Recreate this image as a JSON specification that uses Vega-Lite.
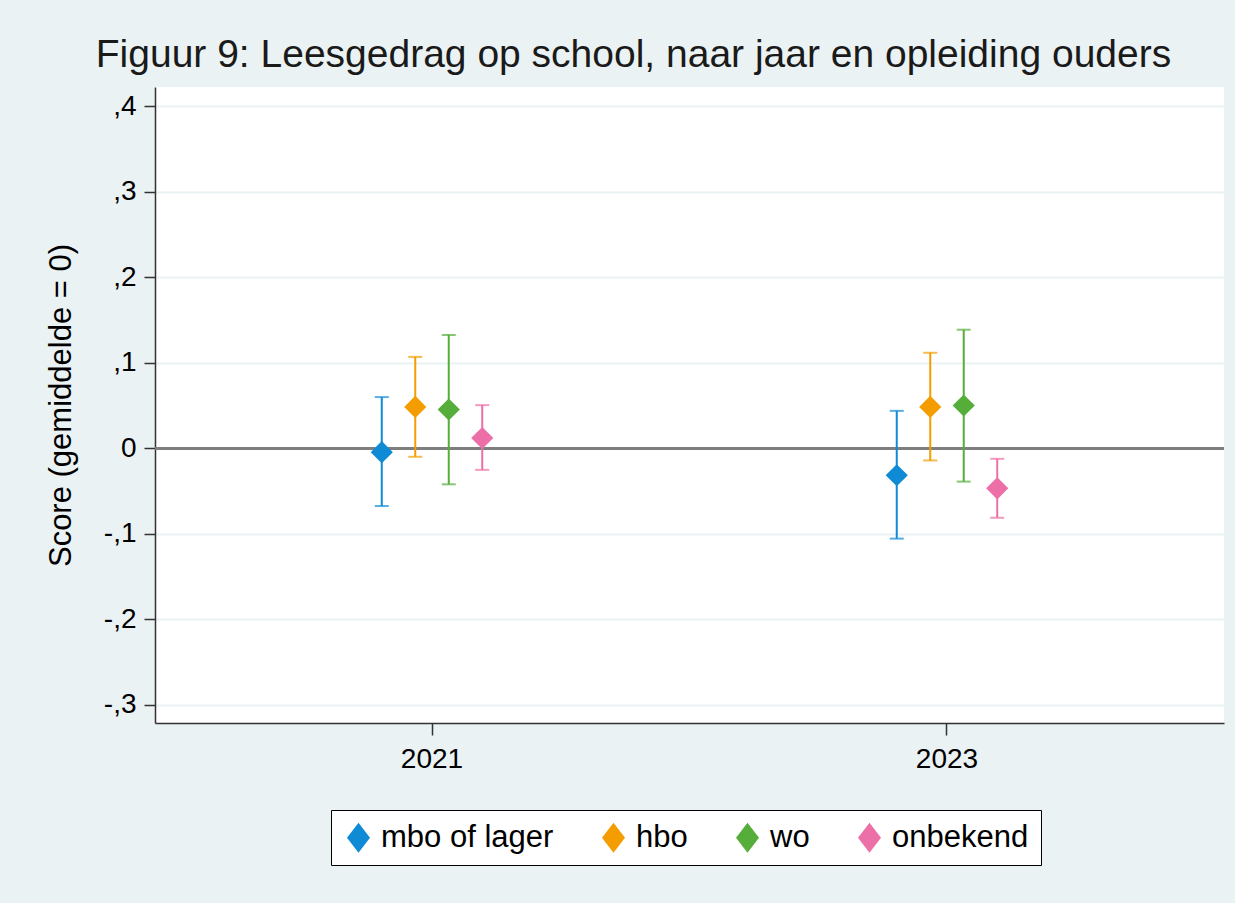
{
  "$schema": "https://vega.github.io/schema/vega-lite/v6.json",
  "width": 1069,
  "height": 636,
  "autosize": {"type": "none"},
  "padding": {"left": 155, "top": 87, "right": 11, "bottom": 180},
  "background": "#EAF2F3",
  "config": {
    "font": "Liberation Sans",
    "view": {"fill": "white", "stroke": null}
  },
  "title": {
    "text": "Figuur 9: Leesgedrag op school, naar jaar en opleiding ouders",
    "fontSize": 39,
    "fontWeight": "normal",
    "color": "#1a1a1a",
    "anchor": "middle",
    "frame": "group",
    "dx": -56,
    "offset": 12
  },
  "data": {
    "values": [
      {"jaar": "2021", "opleiding": "mbo of lager", "score": -0.0044, "lo": -0.0674, "hi": 0.0600},
      {"jaar": "2021", "opleiding": "hbo", "score": 0.0485, "lo": -0.0098, "hi": 0.1070},
      {"jaar": "2021", "opleiding": "wo", "score": 0.0455, "lo": -0.0420, "hi": 0.1326},
      {"jaar": "2021", "opleiding": "onbekend", "score": 0.0121, "lo": -0.0251, "hi": 0.0506},
      {"jaar": "2023", "opleiding": "mbo of lager", "score": -0.0314, "lo": -0.1055, "hi": 0.0439},
      {"jaar": "2023", "opleiding": "hbo", "score": 0.0485, "lo": -0.0141, "hi": 0.1118},
      {"jaar": "2023", "opleiding": "wo", "score": 0.0502, "lo": -0.0388, "hi": 0.1388},
      {"jaar": "2023", "opleiding": "onbekend", "score": -0.0467, "lo": -0.0811, "hi": -0.0122}
    ]
  },
  "layer": [
    {
      "mark": {"type": "rule", "color": "#7f7f7f", "strokeWidth": 2},
      "encoding": {
        "y": {
          "datum": 0,
          "type": "quantitative",
          "scale": {"domain": [-0.3211, 0.4226], "nice": false, "zero": false},
          "axis": {
            "values": [-0.3, -0.2, -0.1, 0, 0.1, 0.2, 0.3, 0.4],
            "labelExpr": "datum.value == 0 ? '0' : (datum.value < 0 ? '-' : '') + ',' + format(abs(datum.value) * 10, '.0f')",
            "title": "Score (gemiddelde = 0)",
            "titleFontSize": 31,
            "titleFontWeight": "normal",
            "titleColor": "black",
            "titlePadding": 26,
            "labelFontSize": 28,
            "labelColor": "black",
            "labelPadding": 8,
            "tickSize": 11,
            "tickColor": "#333333",
            "tickWidth": 1.5,
            "domainColor": "#333333",
            "domainWidth": 1.5,
            "grid": true,
            "gridColor": "#EAF2F3",
            "gridWidth": 2
          }
        }
      }
    },
    {
      "mark": {"type": "rule", "strokeWidth": 2},
      "encoding": {
        "x": {
          "field": "jaar",
          "type": "ordinal",
          "scale": {"type": "band", "paddingInner": 0.6748, "paddingOuter": 0.3753},
          "axis": {
            "title": null,
            "labelAngle": 0,
            "labelFontSize": 28,
            "labelColor": "black",
            "labelPadding": 10,
            "tickSize": 12,
            "tickColor": "#333333",
            "tickWidth": 1.5,
            "domainColor": "#333333",
            "domainWidth": 1.5,
            "grid": false
          }
        },
        "xOffset": {
          "field": "opleiding",
          "type": "nominal",
          "sort": ["mbo of lager", "hbo", "wo", "onbekend"],
          "scale": {"type": "point", "padding": 1}
        },
        "y": {"field": "lo", "type": "quantitative"},
        "y2": {"field": "hi"},
        "color": {
          "field": "opleiding",
          "type": "nominal",
          "sort": ["mbo of lager", "hbo", "wo", "onbekend"],
          "scale": {"domain": ["mbo of lager", "hbo", "wo", "onbekend"], "range": ["#0F8BD6", "#F49D00", "#55AE3A", "#EC6FA7"]},
          "legend": {
            "orient": "none",
            "legendX": 176,
            "legendY": 723,
            "direction": "horizontal",
            "columns": 4,
            "title": null,
            "fillColor": "white",
            "strokeColor": "black",
            "padding": 12,
            "labelFontSize": 31,
            "labelColor": "black",
            "labelLimit": 400,
            "labelOffset": 7,
            "columnPadding": 44,
            "symbolType": "M0,-1.3L1,0L0,1.3L-1,0Z",
            "symbolSize": 529,
            "symbolStrokeWidth": 0,
            "symbolOpacity": 1,
            "encode": {
              "symbols": {"update": {"opacity": {"value": 1}, "fillOpacity": {"value": 1}, "strokeWidth": {"value": 0}}}
            }
          }
        }
      }
    },
    {
      "mark": {"type": "tick", "thickness": 2, "size": 14},
      "encoding": {
        "x": {"field": "jaar", "type": "ordinal"},
        "xOffset": {"field": "opleiding", "type": "nominal", "sort": ["mbo of lager", "hbo", "wo", "onbekend"]},
        "y": {"field": "lo", "type": "quantitative"},
        "color": {"field": "opleiding", "type": "nominal"}
      }
    },
    {
      "mark": {"type": "tick", "thickness": 2, "size": 14},
      "encoding": {
        "x": {"field": "jaar", "type": "ordinal"},
        "xOffset": {"field": "opleiding", "type": "nominal", "sort": ["mbo of lager", "hbo", "wo", "onbekend"]},
        "y": {"field": "hi", "type": "quantitative"},
        "color": {"field": "opleiding", "type": "nominal"}
      }
    },
    {
      "mark": {"type": "point", "shape": "diamond", "filled": true, "size": 490, "opacity": 1},
      "encoding": {
        "x": {"field": "jaar", "type": "ordinal"},
        "xOffset": {"field": "opleiding", "type": "nominal", "sort": ["mbo of lager", "hbo", "wo", "onbekend"]},
        "y": {"field": "score", "type": "quantitative"},
        "color": {"field": "opleiding", "type": "nominal"}
      }
    }
  ]
}
